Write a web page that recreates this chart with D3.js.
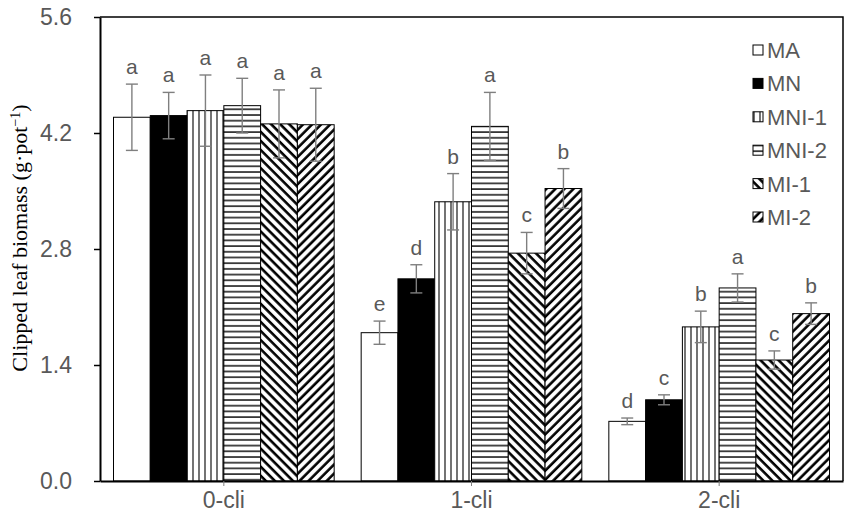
<!DOCTYPE html>
<html>
<head>
<meta charset="utf-8">
<script src="https://cdn.jsdelivr.net/npm/d3@7"></script>
<style>
  body { margin: 0; background: #fff; }
</style>
</head>
<body>
<svg id="chart"></svg>
<script>
const w = 851;
const h = 515;
const plotLeft = 100, plotRight = 843, plotTop = 17, plotBottom = 481;
const sans = "'Liberation Sans', Arial, sans-serif";
const serif = "'Liberation Serif', 'Times New Roman', serif";

const groups = ["0-cli", "1-cli", "2-cli"];
const series = ["MA", "MN", "MNI-1", "MNI-2", "MI-1", "MI-2"];
const yTicks = [0, 1.4, 2.8, 4.2, 5.6];

// mean per group (0-cli, 1-cli, 2-cli)
const maVals   = [4.39, 1.79, 0.72];
const mnVals   = [4.41, 2.44, 0.98];
const mni1Vals = [4.47, 3.37, 1.86];
const mni2Vals = [4.53, 4.28, 2.33];
const mi1Vals  = [4.31, 2.75, 1.46];
const mi2Vals  = [4.30, 3.53, 2.02];

// error bar half-lengths
const maErr   = [0.40, 0.14, 0.04];
const mnErr   = [0.28, 0.17, 0.06];
const mni1Err = [0.43, 0.34, 0.19];
const mni2Err = [0.33, 0.41, 0.17];
const mi1Err  = [0.41, 0.25, 0.11];
const mi2Err  = [0.44, 0.24, 0.13];

// significance letters
const maSig   = ["a", "e", "d"];
const mnSig   = ["a", "d", "c"];
const mni1Sig = ["a", "b", "b"];
const mni2Sig = ["a", "a", "a"];
const mi1Sig  = ["a", "c", "c"];
const mi2Sig  = ["a", "b", "b"];

const vals = [maVals, mnVals, mni1Vals, mni2Vals, mi1Vals, mi2Vals];
const errs = [maErr, mnErr, mni1Err, mni2Err, mi1Err, mi2Err];
const sigs = [maSig, mnSig, mni1Sig, mni2Sig, mi1Sig, mi2Sig];
const fills = ["#fff", "#000", "url(#pVert)", "url(#pHoriz)", "url(#pBack)", "url(#pFwd)"];

const rows = [];
groups.forEach((g, gi) => {
  series.forEach((s, si) => {
    rows.push({ g: g, s: s, fill: fills[si], v: vals[si][gi], e: errs[si][gi], sig: sigs[si][gi] });
  });
});

var chart = d3.select("#chart")
  .attr("width", w)
  .attr("height", h);

// hatch patterns
var defs = chart.append("defs");
var pv = defs.append("pattern").attr("id", "pVert")
  .attr("patternUnits", "userSpaceOnUse").attr("width", 6).attr("height", 6);
pv.append("rect").attr("width", 6).attr("height", 6).attr("fill", "#fff");
pv.append("line").attr("x1", 1).attr("x2", 1).attr("y1", 0).attr("y2", 6)
  .attr("stroke", "#000").attr("stroke-width", 1.1);

var ph = defs.append("pattern").attr("id", "pHoriz")
  .attr("patternUnits", "userSpaceOnUse").attr("width", 6).attr("height", 5.7);
ph.append("rect").attr("width", 6).attr("height", 5.7).attr("fill", "#fff");
ph.append("line").attr("x1", 0).attr("x2", 6).attr("y1", 1).attr("y2", 1)
  .attr("stroke", "#000").attr("stroke-width", 1.4);

[["pBack", -45], ["pFwd", 45]].forEach(([id, ang]) => {
  var p = defs.append("pattern").attr("id", id)
    .attr("patternUnits", "userSpaceOnUse").attr("width", 6.4).attr("height", 6.4)
    .attr("patternTransform", `rotate(${ang})`);
  p.append("rect").attr("width", 6.4).attr("height", 6.4).attr("fill", "#fff");
  p.append("line").attr("x1", 1.5).attr("x2", 1.5).attr("y1", 0).attr("y2", 6.4)
    .attr("stroke", "#000").attr("stroke-width", 2.6);
});

const xScale = d3.scaleBand().domain(groups).range([plotLeft, plotRight]);
const xInner = d3.scaleBand().domain(series).range([13.5, xScale.bandwidth() - 13.5]);
const yScale = d3.scaleLinear().domain([0, 5.6]).range([plotBottom, plotTop]);

// bars
chart.append("g").selectAll("rect")
  .data(rows).join("rect")
  .attr("x", d => xScale(d.g) + xInner(d.s))
  .attr("y", d => yScale(d.v))
  .attr("width", xInner.bandwidth())
  .attr("height", d => yScale(0) - yScale(d.v))
  .attr("fill", d => d.fill)
  .attr("stroke", "#000")
  .attr("stroke-width", 1);

// error bars
var eb = chart.append("g").attr("stroke", "#7f7f7f").attr("stroke-width", 1.4);
const cx = d => xScale(d.g) + xInner(d.s) + xInner.bandwidth() / 2;
eb.selectAll(".stem").data(rows).join("line")
  .attr("x1", cx).attr("x2", cx)
  .attr("y1", d => yScale(d.v + d.e)).attr("y2", d => yScale(d.v - d.e));
eb.selectAll(".capt").data(rows).join("line")
  .attr("x1", d => cx(d) - 6).attr("x2", d => cx(d) + 6)
  .attr("y1", d => yScale(d.v + d.e)).attr("y2", d => yScale(d.v + d.e));
eb.selectAll(".capb").data(rows).join("line")
  .attr("x1", d => cx(d) - 6).attr("x2", d => cx(d) + 6)
  .attr("y1", d => yScale(d.v - d.e)).attr("y2", d => yScale(d.v - d.e));

// letters
chart.append("g").selectAll("text")
  .data(rows).join("text")
  .attr("x", cx)
  .attr("y", d => yScale(d.v + d.e) - 10)
  .attr("text-anchor", "middle")
  .style("font-family", sans)
  .style("font-size", "21px")
  .attr("fill", "#595959")
  .text(d => d.sig);

// frame (top and right)
chart.append("path")
  .attr("d", `M${plotLeft},${plotTop}H${plotRight}V${plotBottom}`)
  .attr("fill", "none").attr("stroke", "#000").attr("stroke-width", 1.5);

const xAxis = d3.axisBottom(xScale).tickSize(5).tickSizeOuter(0).tickPadding(6);
const yAxis = d3.axisLeft(yScale).tickValues(yTicks).tickFormat(d3.format(".1f"))
  .tickSize(6).tickSizeOuter(0).tickPadding(22);

var gx = chart.append("g")
  .attr("id", "x-axis")
  .attr("transform", `translate(0, ${plotBottom})`)
  .call(xAxis);
gx.select(".domain").attr("stroke-width", 2);
gx.selectAll(".tick line").attr("stroke", "#7f7f7f").attr("stroke-width", 1);
gx.selectAll("text").style("font-size", "23px").style("font-family", sans).attr("fill", "#595959");

var gy = chart.append("g")
  .attr("id", "y-axis")
  .attr("transform", `translate(${plotLeft}, 0)`)
  .call(yAxis);
gy.select(".domain").attr("stroke-width", 2);
gy.selectAll(".tick line").attr("stroke-width", 1.5);
gy.selectAll("text").style("font-size", "23px").style("font-family", sans).attr("fill", "#595959");

// y title
var yt = chart.append("text")
  .attr("transform", "translate(27, 238) rotate(-90)")
  .attr("text-anchor", "middle")
  .style("font-family", serif)
  .style("font-size", "22px")
  .attr("fill", "#000");
yt.append("tspan").text("Clipped leaf biomass (g\u00b7pot");
yt.append("tspan").attr("baseline-shift", "super").style("font-size", "14px").text("\u22121");
yt.append("tspan").text(")");

// legend
var lg = chart.append("g").attr("transform", "translate(753, 50)");
var li = lg.selectAll("g").data(series).join("g")
  .attr("transform", (d, i) => `translate(0, ${i * 33.4})`);
li.append("rect")
  .attr("x", 0).attr("y", -5).attr("width", 10).attr("height", 10)
  .attr("fill", (d, i) => fills[i]).attr("stroke", "#000").attr("stroke-width", 1);
li.append("text")
  .attr("x", 14).attr("y", 0).attr("dy", "0.36em")
  .style("font-family", sans).style("font-size", "22px").attr("fill", "#595959")
  .text(d => d);
</script>
</body>
</html>
